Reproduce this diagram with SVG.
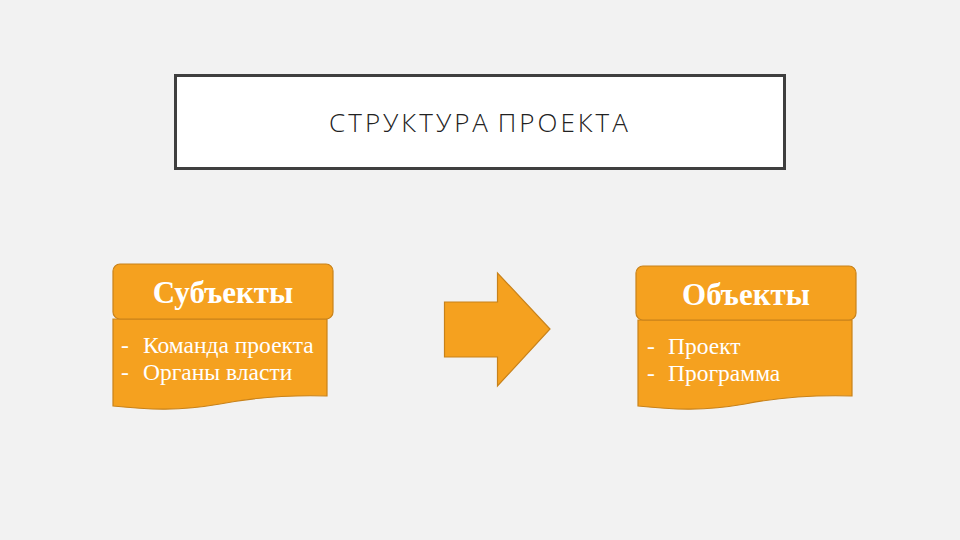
<svg xmlns="http://www.w3.org/2000/svg" width="960" height="540" viewBox="0 0 960 540">
<style>
.shape{fill:#F5A11F;stroke:#C8821A;stroke-width:1.2}
.head{font-family:"Liberation Serif",serif;font-weight:bold;font-size:31px;fill:#fff;text-anchor:middle}
.item{font-family:"Liberation Serif",serif;font-size:23.5px;fill:#fff}
.title{font-family:"Open Sans","DejaVu Sans",sans-serif;font-size:26px;fill:#222;letter-spacing:3px;word-spacing:-3px;text-anchor:middle;font-weight:300}
</style>
<rect width="960" height="540" fill="#F2F2F2"/>
<g id="title">
<rect x="175.5" y="75.5" width="609" height="93" fill="#fff" stroke="#3F3F3F" stroke-width="3"/>
<text class="title" x="480" y="132">СТРУКТУРА ПРОЕКТА</text>
</g>
<g id="subjects">
<path class="shape" d="M113,319 H327 V396 C290,395 250,398 220,404 C180,411 150,410 113,406 Z"/>
<rect class="shape" x="113" y="264" width="220" height="55" rx="7"/>
<text class="head" x="223" y="303">Субъекты</text>
<text class="item" x="121" y="353">-</text><text class="item" x="143" y="353">Команда проекта</text>
<text class="item" x="121" y="380">-</text><text class="item" x="143" y="380">Органы власти</text>
</g>
<g id="connectors">
<path class="shape" d="M444.5,302 H497.5 V273 L550,329 L497.5,386 V357 H444.5 Z"/>
</g>
<g id="objects">
<path class="shape" d="M638,320 H852 V396 C815,395 775,398 745,404 C705,411 675,410 638,406 Z"/>
<rect class="shape" x="636" y="266" width="220" height="54" rx="7"/>
<text class="head" x="746" y="305">Объекты</text>
<text class="item" x="647" y="354">-</text><text class="item" x="668" y="354">Проект</text>
<text class="item" x="647" y="381">-</text><text class="item" x="668" y="381">Программа</text>
</g>
</svg>
